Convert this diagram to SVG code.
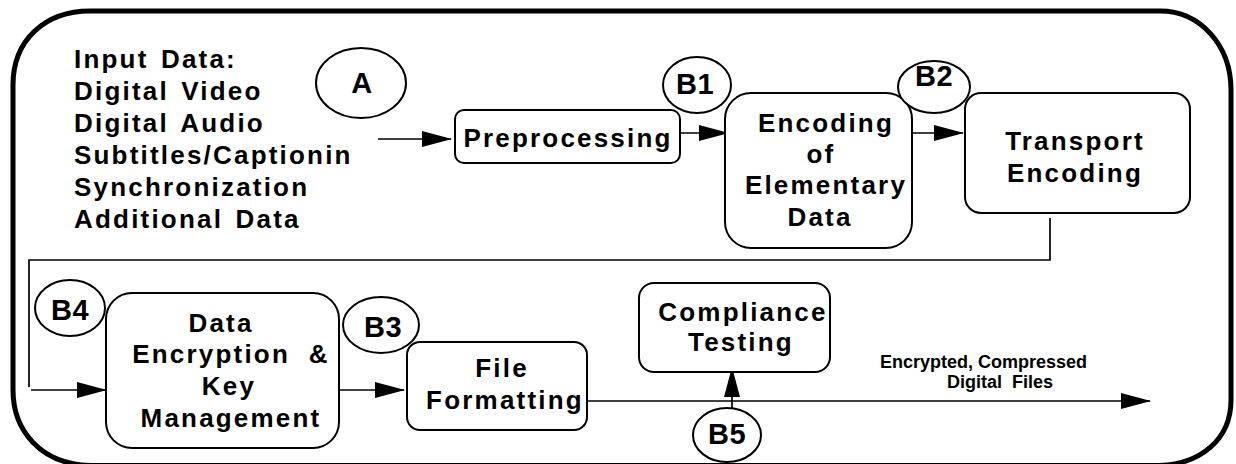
<svg xmlns="http://www.w3.org/2000/svg" width="1236" height="464" viewBox="0 0 1236 464">
<style>
.box{fill:#fff;stroke:#000;stroke-width:2}
.ell{fill:#fff;stroke:#000;stroke-width:2}
.t{font-family:"Liberation Sans",Arial,sans-serif;font-weight:bold;font-size:26px;letter-spacing:2.2px;fill:#000}
.lbl{font-family:"Liberation Sans",Arial,sans-serif;font-weight:bold;font-size:29px;letter-spacing:0.5px;fill:#000;text-anchor:middle}
.mid{text-anchor:middle}
.small{font-family:"Liberation Sans",Arial,sans-serif;font-weight:bold;font-size:18px;fill:#000}
.ln{fill:none;stroke:#000;stroke-width:1.7}
</style>
<defs>
<marker id="ah" markerUnits="userSpaceOnUse" markerWidth="30" markerHeight="16" refX="29" refY="8" orient="auto">
<path d="M0,0 L30,8 L0,16 Z" fill="#000"/>
</marker>
</defs>
<rect width="1236" height="464" fill="#fff"/>
<path id="frame" d="M 90,11 L 1160,11 C 1200,11 1231,45 1231,90 L 1231,400 C 1231,440 1200,464 1160,465.5 L 90,465.5 C 40,464 13,430 13,390 L 13,85 C 13,40 45,11 90,11 Z" fill="none" stroke="#000" stroke-width="5"/>

<g id="input">
<text class="t" x="74" y="68" word-spacing="3">Input Data:</text>
<text class="t" x="74" y="100" word-spacing="3">Digital Video</text>
<text class="t" x="74" y="132" word-spacing="3">Digital Audio</text>
<text class="t" x="74" y="164">Subtitles/Captionin</text>
<text class="t" x="74" y="196">Synchronization</text>
<text class="t" x="74" y="228" word-spacing="3">Additional Data</text>
</g>

<g id="connectors">
<line class="ln" x1="378" y1="139" x2="451" y2="139" marker-end="url(#ah)"/>
<line class="ln" x1="677" y1="133" x2="728" y2="133" marker-end="url(#ah)"/>
<line class="ln" x1="912" y1="133" x2="963" y2="133" marker-end="url(#ah)"/>
<polyline class="ln" points="1050,218 1050,260 29,260 29,387"/>
<line class="ln" x1="31" y1="390" x2="106" y2="390" marker-end="url(#ah)"/>
<line class="ln" x1="339" y1="390" x2="404" y2="390" marker-end="url(#ah)"/>
<line class="ln" x1="587" y1="401" x2="1150" y2="401" marker-end="url(#ah)"/>
<line class="ln" x1="732" y1="408" x2="732" y2="368" marker-end="url(#ah)"/>
<text class="small" x="880" y="368">Encrypted, Compressed</text>
<text class="small" x="947" y="388" xml:space="preserve">Digital  Files</text>
</g>

<g id="A">
<ellipse class="ell" cx="361" cy="83" rx="45" ry="35"/>
<text class="lbl" x="362" y="93">A</text>
</g>

<g id="preprocessing">
<rect class="box" x="455" y="110" width="225" height="53" rx="9"/>
<text class="t mid" x="568" y="147">Preprocessing</text>
</g>

<g id="B1">
<ellipse class="ell" cx="697" cy="85" rx="34" ry="28"/>
<text class="lbl" x="695" y="94">B1</text>
</g>

<g id="encoding">
<rect class="box" x="725" y="93" width="187" height="155" rx="26"/>
<text class="t mid" x="826" y="132">Encoding</text>
<text class="t mid" x="821" y="163">of</text>
<text class="t mid" x="826" y="194">Elementary</text>
<text class="t mid" x="820" y="226">Data</text>
</g>

<g id="B2">
<ellipse class="ell" cx="934" cy="87" rx="36" ry="26"/>
<text class="lbl" x="934" y="86">B2</text>
</g>

<g id="transport">
<rect class="box" x="965" y="93" width="225" height="120" rx="16"/>
<text class="t mid" x="1075" y="150">Transport</text>
<text class="t mid" x="1075" y="182">Encoding</text>
</g>

<g id="B4">
<ellipse class="ell" cx="70" cy="308" rx="35" ry="28"/>
<text class="lbl" x="70" y="320">B4</text>
</g>

<g id="encryption">
<rect class="box" x="106" y="293" width="233" height="155" rx="26"/>
<text class="t mid" x="221" y="332">Data</text>
<text class="t mid" x="231" y="363" xml:space="preserve">Encryption  &amp;</text>
<text class="t mid" x="229" y="395">Key</text>
<text class="t mid" x="231" y="427">Management</text>
</g>

<g id="B3">
<ellipse class="ell" cx="381" cy="325" rx="38" ry="28"/>
<text class="lbl" x="383" y="337">B3</text>
</g>

<g id="fileformatting">
<rect class="box" x="407" y="342" width="180" height="88" rx="13"/>
<text class="t mid" x="502" y="377">File</text>
<text class="t mid" x="505" y="409">Formatting</text>
</g>

<g id="compliance">
<rect class="box" x="639" y="283" width="191" height="89" rx="15"/>
<text class="t mid" x="743" y="321">Compliance</text>
<text class="t mid" x="741" y="351">Testing</text>
</g>

<g id="B5">
<ellipse class="ell" cx="727" cy="435" rx="34" ry="27"/>
<text class="lbl" x="727" y="444">B5</text>
</g>
</svg>
